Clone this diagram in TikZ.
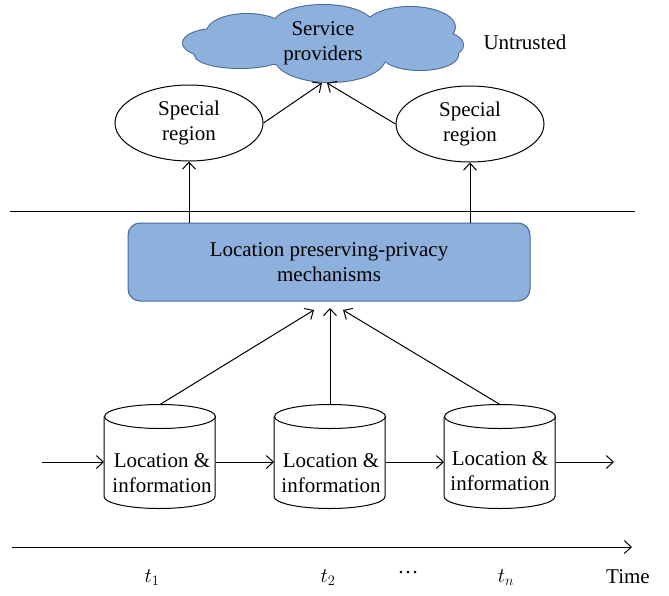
\documentclass[tikz,border=0pt]{standalone}
\usepackage{fontspec}
\setmainfont{Liberation Serif}
\usetikzlibrary{shapes.geometric,arrows.meta,calc}
\definecolor{fillblue}{RGB}{142,176,220}
\definecolor{edgeblue}{RGB}{72,104,150}
\begin{document}
\begin{tikzpicture}[x=1pt,y=-1pt,
  font=\fontsize{21}{25}\selectfont,
  line width=1pt,
  arr/.style={-{Straight Barb[length=7pt,width=13pt,line width=1pt]}},
  regionnode/.style={ellipse, draw, minimum width=148pt, minimum height=76pt,
    inner sep=0pt, align=center},
  mechbox/.style={rectangle, rounded corners=12pt, draw=edgeblue, fill=fillblue,
    minimum width=402pt, minimum height=78pt, align=center},
  dbnode/.style={rectangle, minimum width=111pt, minimum height=104pt, inner sep=0pt},
  dbtext/.style={align=center, inner sep=0pt},
  plain/.style={inner sep=0pt}]
\useasboundingbox (0,0) rectangle (669,595);

% cloud drawn as a union of ellipses
\def\cloudparts{%
  (215,43) ellipse[x radius=32,y radius=14]
  (247,32) ellipse[x radius=40,y radius=18]
  (323,25) ellipse[x radius=50,y radius=20]
  (410,27) ellipse[x radius=45,y radius=20]
  (435,45) ellipse[x radius=28,y radius=14]
  (420,55) ellipse[x radius=38,y radius=15]
  (330,58) ellipse[x radius=55,y radius=24]
  (240,55) ellipse[x radius=45,y radius=13]
  (323,42) ellipse[x radius=100,y radius=25]}
\path[draw=edgeblue, line width=2pt] \cloudparts;
\path[fill=fillblue] \cloudparts;
\node[plain, align=center] (sp) at (323,43) {Service\\providers};
\node[plain, anchor=west] (untr) at (483,42) {Untrusted};
\coordinate (spl) at (322,83);
\coordinate (spr) at (327,83);

% special regions
\node[regionnode] (r1) at (189,123) {Special\\region};
\node[regionnode] (r2) at (470,124) {Special\\region};
\draw[arr] (r1.east) -- (spl);
\draw[arr] (r2.west) -- (spr);

% trust boundary
\coordinate (bl) at (10,211);
\coordinate (br) at (635,211);
\draw (bl) -- (br);

% mechanisms box
\node[mechbox] (mech) at (329,262) {Location preserving-privacy\\mechanisms};
\draw[arr] (mech.north -| r1.south) -- (r1.south);
\draw[arr] (mech.north -| r2.south) -- (r2.south);

% databases (cylinders)
\foreach \n/\x in {d1/160,d2/330,d3/500}{
  \node[dbnode] (\n) at (\x,457) {};
  \draw (\n.north west) ++(0,12) -- ++(0,80) arc[start angle=180,end angle=0,x radius=55.5,y radius=12] -- ++(0,-80);
  \draw ($(\n.north)+(0,12)$) ellipse[x radius=55.5,y radius=12];
}
\node[dbtext] (l1) at (162,473) {Location \&\\information};
\node[dbtext] (l2) at (331,473) {Location \&\\information};
\node[dbtext] (l3) at (500,471) {Location \&\\information};

\coordinate (m1) at (314,310);
\coordinate (m2) at (330,308);
\coordinate (m3) at (343,310);
\draw[arr] (d1.north) -- (m1);
\draw[arr] (d2.north) -- (m2);
\draw[arr] (d3.north) -- (m3);

\coordinate (in) at (42,462);
\coordinate (out) at (614,462);
\draw[arr] (in) -- (in -| d1.west);
\draw[arr] (in -| d1.east) -- (in -| d2.west);
\draw[arr] (in -| d2.east) -- (in -| d3.west);
\draw[arr] (in -| d3.east) -- (out);

% time axis
\coordinate (ta) at (12,547);
\coordinate (tb) at (632,547);
\draw[arr] (ta) -- (tb);
\node[plain] (t1) at (152,578) {$t_1$};
\node[plain] (t2) at (328,578) {$t_2$};
\node[plain] (dots) at (408,575) {\raisebox{0.25em}{…}};
\node[plain] (tn) at (506,578) {$t_n$};
\node[plain] (time) at (628,577) {Time};
\end{tikzpicture}
\end{document}
